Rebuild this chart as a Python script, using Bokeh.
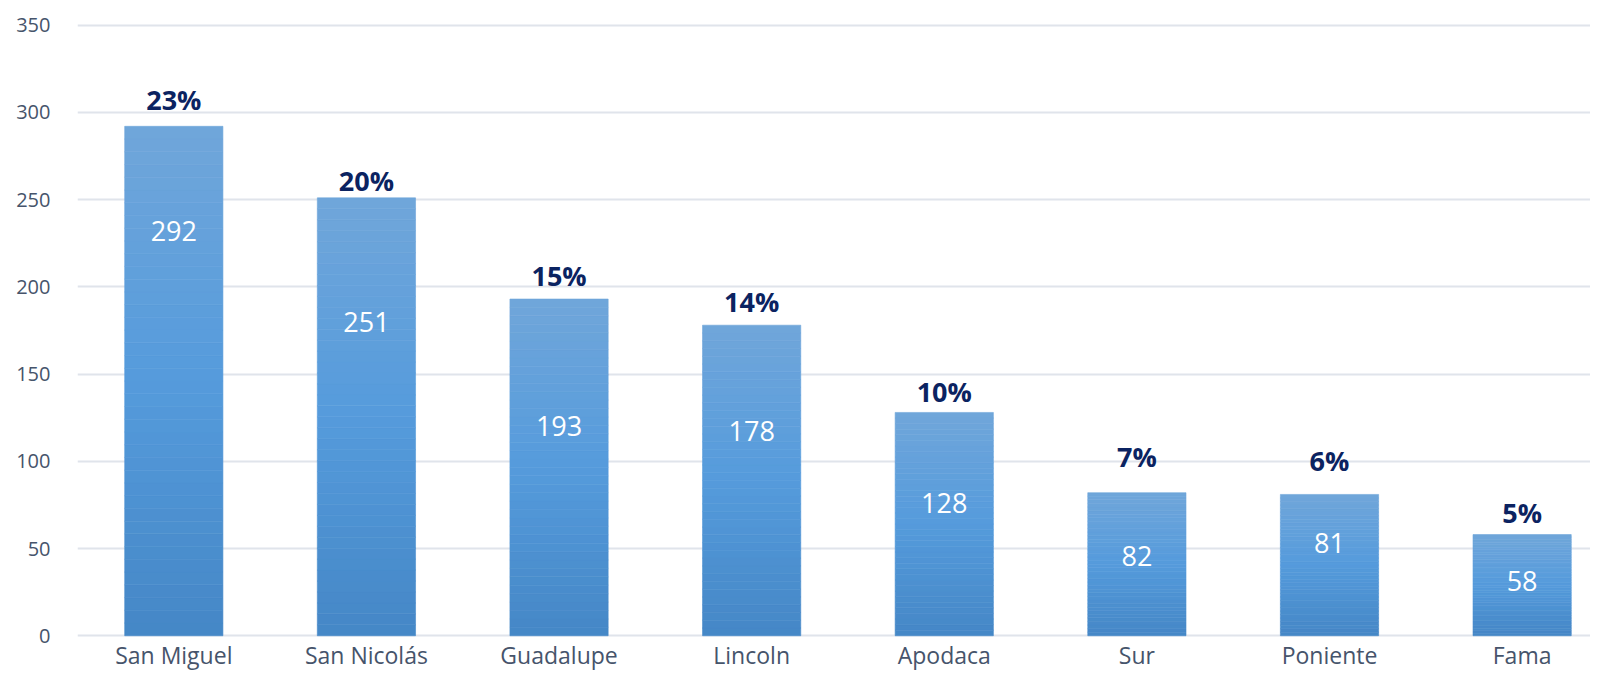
from bokeh.plotting import figure
from bokeh.models import FixedTicker, Range1d
from bokeh.core.properties import value
from bokeh.embed import file_html
from bokeh.resources import INLINE

categories = ["San Miguel", "San Nicolás", "Guadalupe", "Lincoln", "Apodaca", "Sur", "Poniente", "Fama"]
counts = [292, 251, 193, 178, 128, 82, 81, 58]
percent_labels = ["23%", "20%", "15%", "14%", "10%", "7%", "6%", "5%"]
# label anchor heights (data units) as placed in the reference
count_label_y = [232, 180, 120.5, 117.5, 76, 46, 53, 31.5]
percent_label_y = [307.5, 261, 206.5, 191.5, 140, 103, 100.5, 70.5]
y_ticks = [0, 50, 100, 150, 200, 250, 300, 350]

FONT = "Open Sans"
BAR_W = 0.51

xpos = list(range(len(categories)))

p = figure(x_range=Range1d(-0.5, 7.355), y_range=Range1d(-1, 351.5), width=1590, height=673,
           output_backend="svg", toolbar_location=None,
           min_border_left=77, min_border_right=0, min_border_top=22, min_border_bottom=33)
p.outline_line_color = None
p.background_fill_color = "white"
p.border_fill_color = "white"

# gradient bars: stack thin slices per bar, colour interpolated bottom->top
stops = [(0.0, (0x45, 0x87, 0xc6)), (0.5, (0x55, 0x9b, 0xdc)), (1.0, (0x70, 0xa6, 0xda))]
def grad(t):
    for (t0, c0), (t1, c1) in zip(stops[:-1], stops[1:]):
        if t0 <= t <= t1:
            f = (t - t0) / (t1 - t0)
            return "#%02x%02x%02x" % tuple(int(round(a + (b - a) * f)) for a, b in zip(c0, c1))
    return "#%02x%02x%02x" % stops[-1][1]

N = 40
xs, bots, tops, cols = [], [], [], []
for xi, v in zip(xpos, counts):
    for k in range(N):
        xs.append(xi)
        bots.append(v * k / N)
        tops.append(v * (k + 1) / N)
        cols.append(grad((k + 0.5) / N))
p.vbar(x=xs, bottom=bots, top=tops, width=BAR_W, fill_color=cols, line_color=cols, line_width=0.6)

p.text(x=xpos, y=count_label_y, text=[str(v) for v in counts],
       text_color="white", text_font=value(FONT), text_font_size="27px",
       text_align="center", text_baseline="middle")
p.text(x=xpos, y=percent_label_y, text=percent_labels,
       text_color="#0b2361", text_font=value(FONT), text_font_size="27px", text_font_style="bold",
       text_align="center", text_baseline="middle")

p.xgrid.grid_line_color = None
p.ygrid.grid_line_color = "#e0e4eb"
p.ygrid.grid_line_width = 2
p.yaxis.ticker = FixedTicker(ticks=y_ticks)
p.xaxis.ticker = FixedTicker(ticks=xpos)
p.xaxis.major_label_overrides = {i: c for i, c in zip(xpos, categories)}

for ax in (p.xaxis[0], p.yaxis[0]):
    ax.axis_line_color = None
    ax.major_tick_line_color = None
    ax.minor_tick_line_color = None
    ax.major_tick_out = 0
    ax.minor_tick_out = 0
    ax.major_label_text_font = FONT
    ax.major_label_text_color = "#46546b"

p.yaxis.major_label_text_font_size = "20px"
p.yaxis.major_label_standoff = 27
p.xaxis.major_label_text_font_size = "23px"
p.xaxis.major_label_standoff = 1

open("out.html", "w").write(file_html(p, INLINE))
